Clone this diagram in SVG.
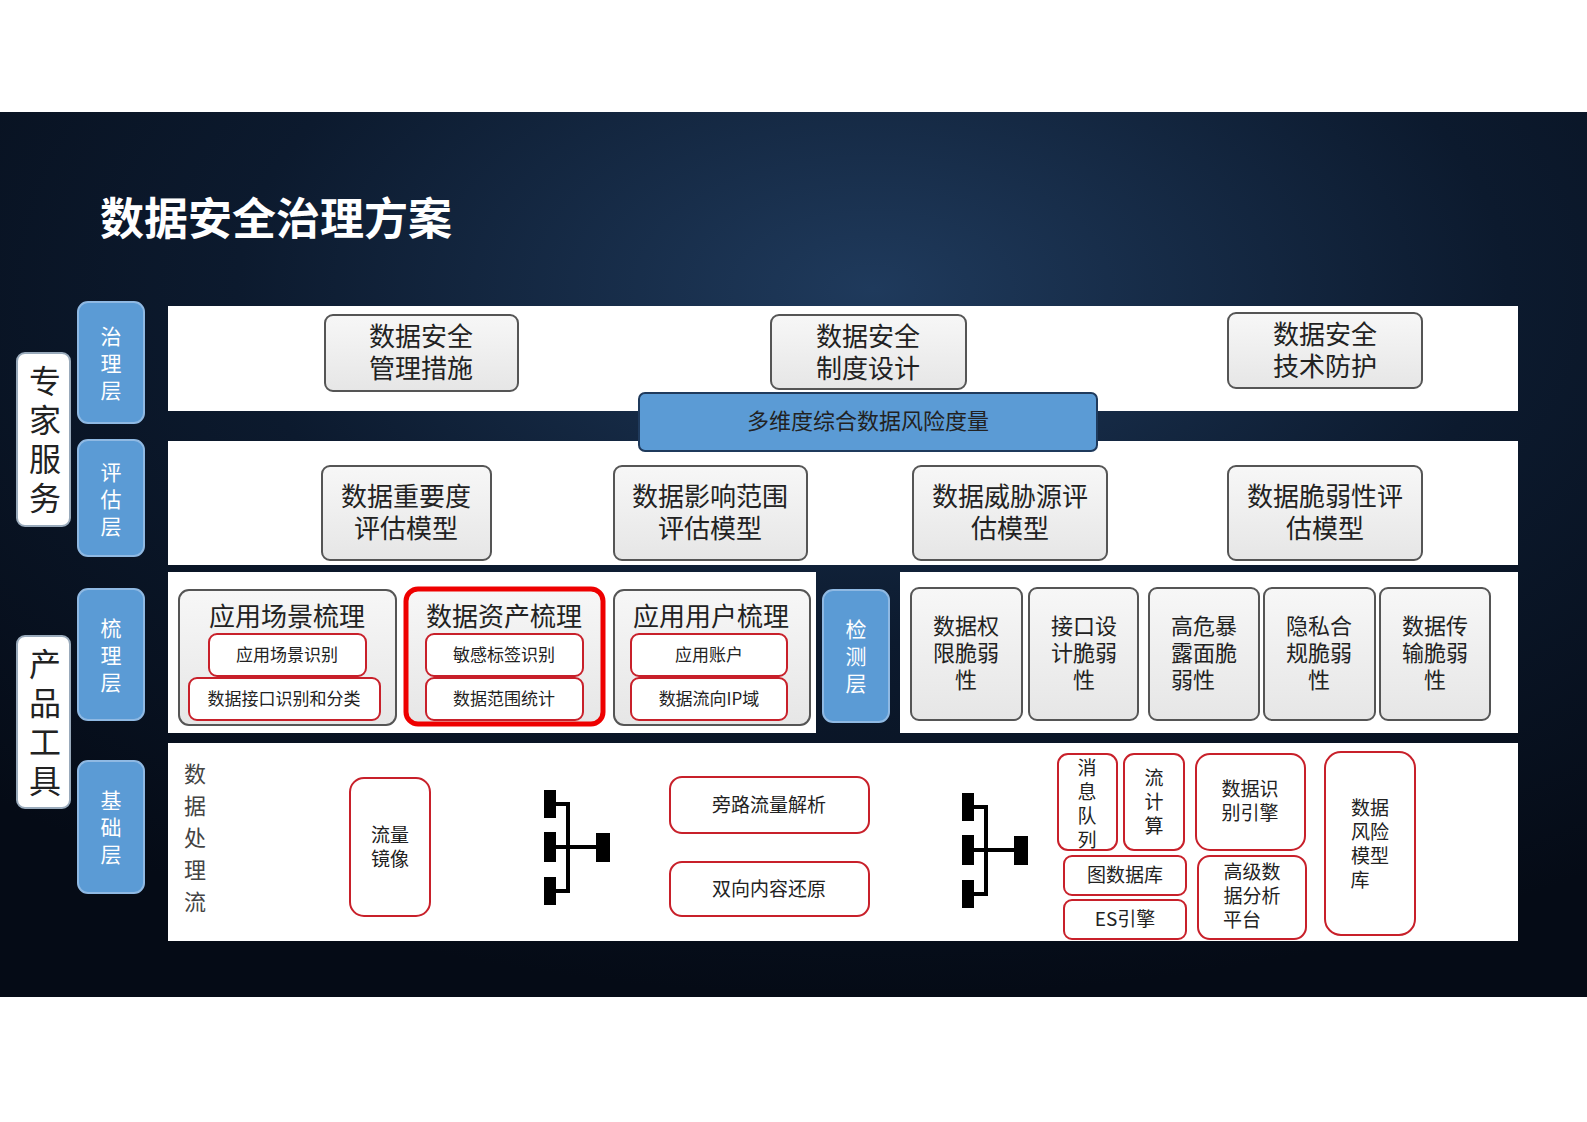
<svg xmlns="http://www.w3.org/2000/svg" width="1587" height="1122" viewBox="0 0 1587 1122">
<defs>
<radialGradient id="bg" cx="0.55" cy="0.2" r="0.8">
<stop offset="0" stop-color="#1f3a5c"/><stop offset="0.5" stop-color="#0c1a2e"/><stop offset="1" stop-color="#050b16"/>
</radialGradient>
<linearGradient id="gb" x1="0" y1="0" x2="0" y2="1"><stop offset="0" stop-color="#f7f7f7"/><stop offset="1" stop-color="#e6e6e6"/></linearGradient>
<g id="icon">
<rect x="0" y="0" width="12" height="28"/><rect x="0" y="42" width="12" height="30"/><rect x="0" y="87" width="12" height="28"/>
<rect x="52" y="43" width="14" height="29"/>
<path d="M12 14 H24 V101 H12 M12 57 H52" fill="none" stroke="#000" stroke-width="4"/>
</g>
</defs>
<style>
text{font-family:"Noto Sans CJK SC","Liberation Sans",sans-serif;fill:#222}
.band{fill:#fff}
.tab{fill:#5b9bd5;stroke:#8fb9e3;stroke-width:2}
.tab-t{fill:#fff;font-size:21px}
.side{fill:#fff;stroke:#9ab;stroke-width:2}
.gray{fill:url(#gb);stroke:#555;stroke-width:2}
.red{fill:#fff;stroke:#c8202a;stroke-width:2}
.big{font-size:26px;text-anchor:middle}
.mid{font-size:22px;text-anchor:middle}
.sm{font-size:17px;text-anchor:middle}
.dt{font-size:19px;text-anchor:middle}
</style>
<rect x="0" y="0" width="1587" height="1122" fill="#fff"/>
<rect x="0" y="112" width="1587" height="885" fill="url(#bg)"/>
<text x="100" y="235" font-size="44" font-weight="bold" style="fill:#fff">数据安全治理方案</text>

<g id="side-labels">
<rect class="side" x="17" y="353" width="53" height="173" rx="8"/>
<text style="font-size:32px" text-anchor="middle"><tspan x="45" y="393">专</tspan><tspan x="45" y="432">家</tspan><tspan x="45" y="471">服</tspan><tspan x="45" y="510">务</tspan></text>
<rect class="side" x="17" y="636" width="53" height="172" rx="8"/>
<text style="font-size:32px" text-anchor="middle"><tspan x="45" y="676">产</tspan><tspan x="45" y="715">品</tspan><tspan x="45" y="754">工</tspan><tspan x="45" y="793">具</tspan></text>
</g>

<g id="tabs">
<rect class="tab" x="78" y="302" width="66" height="121" rx="10"/>
<text class="tab-t" text-anchor="middle"><tspan x="111" y="344">治</tspan><tspan x="111" y="371">理</tspan><tspan x="111" y="398">层</tspan></text>
<rect class="tab" x="78" y="440" width="66" height="116" rx="10"/>
<text class="tab-t" text-anchor="middle"><tspan x="111" y="480">评</tspan><tspan x="111" y="507">估</tspan><tspan x="111" y="534">层</tspan></text>
<rect class="tab" x="78" y="589" width="66" height="131" rx="10"/>
<text class="tab-t" text-anchor="middle"><tspan x="111" y="636">梳</tspan><tspan x="111" y="663">理</tspan><tspan x="111" y="690">层</tspan></text>
<rect class="tab" x="78" y="761" width="66" height="132" rx="10"/>
<text class="tab-t" text-anchor="middle"><tspan x="111" y="808">基</tspan><tspan x="111" y="835">础</tspan><tspan x="111" y="862">层</tspan></text>
<rect class="tab" x="823" y="590" width="66" height="132" rx="10"/>
<text class="tab-t" text-anchor="middle"><tspan x="856" y="637">检</tspan><tspan x="856" y="664">测</tspan><tspan x="856" y="691">层</tspan></text>
</g>

<g id="bands">
<rect class="band" x="168" y="306" width="1350" height="105"/>
<rect class="band" x="168" y="441" width="1350" height="124"/>
<rect class="band" x="168" y="572" width="648" height="161"/>
<rect class="band" x="900" y="572" width="618" height="161"/>
<rect class="band" x="168" y="743" width="1350" height="198"/>
</g>

<g id="gov">
<rect class="gray" x="325" y="315" width="193" height="76" rx="8"/>
<text class="big"><tspan x="421" y="346">数据安全</tspan><tspan x="421" y="378">管理措施</tspan></text>
<rect class="gray" x="771" y="315" width="195" height="74" rx="8"/>
<text class="big"><tspan x="868" y="346">数据安全</tspan><tspan x="868" y="378">制度设计</tspan></text>
<rect class="gray" x="1228" y="313" width="194" height="75" rx="8"/>
<text class="big"><tspan x="1325" y="344">数据安全</tspan><tspan x="1325" y="376">技术防护</tspan></text>
</g>
<g id="risk">
<rect x="639" y="393" width="458" height="58" rx="6" fill="#5b9bd5" stroke="#1f3a5c" stroke-width="2"/>
<text class="mid" x="868" y="429">多维度综合数据风险度量</text>
</g>

<g id="eval">
<rect class="gray" x="322" y="466" width="169" height="94" rx="8"/>
<text class="big"><tspan x="406" y="506">数据重要度</tspan><tspan x="406" y="538">评估模型</tspan></text>
<rect class="gray" x="614" y="466" width="193" height="94" rx="8"/>
<text class="big"><tspan x="710" y="506">数据影响范围</tspan><tspan x="710" y="538">评估模型</tspan></text>
<rect class="gray" x="913" y="466" width="194" height="94" rx="8"/>
<text class="big"><tspan x="1010" y="506">数据威胁源评</tspan><tspan x="1010" y="538">估模型</tspan></text>
<rect class="gray" x="1228" y="466" width="194" height="94" rx="8"/>
<text class="big"><tspan x="1325" y="506">数据脆弱性评</tspan><tspan x="1325" y="538">估模型</tspan></text>
</g>

<g id="sort">
<rect class="gray" x="179" y="590" width="217" height="135" rx="10"/>
<text class="big" x="287" y="626">应用场景梳理</text>
<rect class="red" x="209" y="634" width="157" height="42" rx="8"/><text class="sm" x="287" y="661">应用场景识别</text>
<rect class="red" x="189" y="678" width="191" height="42" rx="8"/><text class="sm" x="284" y="705">数据接口识别和分类</text>
<rect x="406" y="589" width="197" height="135" rx="12" fill="url(#gb)" stroke="#e00" stroke-width="5"/>
<text class="big" x="504" y="626">数据资产梳理</text>
<rect class="red" x="426" y="634" width="157" height="42" rx="8"/><text class="sm" x="504" y="661">敏感标签识别</text>
<rect class="red" x="426" y="678" width="157" height="42" rx="8"/><text class="sm" x="504" y="705">数据范围统计</text>
<rect class="gray" x="614" y="590" width="196" height="135" rx="10"/>
<text class="big" x="711" y="626">应用用户梳理</text>
<rect class="red" x="631" y="634" width="156" height="42" rx="8"/><text class="sm" x="709" y="661">应用账户</text>
<rect class="red" x="631" y="678" width="156" height="42" rx="8"/><text class="sm" x="709" y="705">数据流向IP域</text>
</g>

<g id="detect">
<rect class="gray" x="911" y="588" width="111" height="132" rx="8"/>
<text class="mid"><tspan x="966" y="634">数据权</tspan><tspan x="966" y="661">限脆弱</tspan><tspan x="966" y="688">性</tspan></text>
<rect class="gray" x="1029" y="588" width="109" height="132" rx="8"/>
<text class="mid"><tspan x="1084" y="634">接口设</tspan><tspan x="1084" y="661">计脆弱</tspan><tspan x="1084" y="688">性</tspan></text>
<rect class="gray" x="1149" y="588" width="110" height="132" rx="8"/>
<text class="mid"><tspan x="1204" y="634">高危暴</tspan><tspan x="1204" y="661">露面脆</tspan><tspan x="1193" y="688">弱性</tspan></text>
<rect class="gray" x="1264" y="588" width="111" height="132" rx="8"/>
<text class="mid"><tspan x="1319" y="634">隐私合</tspan><tspan x="1319" y="661">规脆弱</tspan><tspan x="1319" y="688">性</tspan></text>
<rect class="gray" x="1380" y="588" width="110" height="132" rx="8"/>
<text class="mid"><tspan x="1435" y="634">数据传</tspan><tspan x="1435" y="661">输脆弱</tspan><tspan x="1435" y="688">性</tspan></text>
</g>

<g id="base">
<text style="font-size:22px;fill:#444" text-anchor="middle"><tspan x="195" y="782">数</tspan><tspan x="195" y="814">据</tspan><tspan x="195" y="846">处</tspan><tspan x="195" y="878">理</tspan><tspan x="195" y="910">流</tspan></text>
<rect class="red" x="350" y="778" width="80" height="138" rx="14"/>
<text class="dt"><tspan x="390" y="842">流量</tspan><tspan x="390" y="866">镜像</tspan></text>
<rect class="red" x="670" y="777" width="199" height="56" rx="12"/><text class="dt" x="769" y="812">旁路流量解析</text>
<rect class="red" x="670" y="862" width="199" height="54" rx="12"/><text class="dt" x="769" y="896">双向内容还原</text>
<rect class="red" x="1058" y="754" width="59" height="96" rx="10"/>
<text class="dt"><tspan x="1087" y="775">消</tspan><tspan x="1087" y="799">息</tspan><tspan x="1087" y="823">队</tspan><tspan x="1087" y="847">列</tspan></text>
<rect class="red" x="1124" y="754" width="60" height="96" rx="10"/>
<text class="dt"><tspan x="1154" y="785">流</tspan><tspan x="1154" y="809">计</tspan><tspan x="1154" y="833">算</tspan></text>
<rect class="red" x="1064" y="856" width="122" height="39" rx="8"/><text class="dt" x="1125" y="882">图数据库</text>
<rect class="red" x="1064" y="900" width="122" height="39" rx="8"/><text class="dt" x="1125" y="926">ES引擎</text>
<rect class="red" x="1196" y="754" width="109" height="96" rx="14"/>
<text class="dt"><tspan x="1250" y="796">数据识</tspan><tspan x="1250" y="820">别引擎</tspan></text>
<rect class="red" x="1198" y="856" width="108" height="83" rx="12"/>
<text class="dt"><tspan x="1252" y="879">高级数</tspan><tspan x="1252" y="903">据分析</tspan><tspan x="1242" y="927">平台</tspan></text>
<rect class="red" x="1325" y="752" width="90" height="183" rx="16"/>
<text class="dt"><tspan x="1370" y="815">数据</tspan><tspan x="1370" y="839">风险</tspan><tspan x="1370" y="863">模型</tspan><tspan x="1360" y="887">库</tspan></text>
</g>
<g id="connectors">
<use href="#icon" x="544" y="790"/>
<use href="#icon" x="962" y="793"/>
</g>
</svg>
